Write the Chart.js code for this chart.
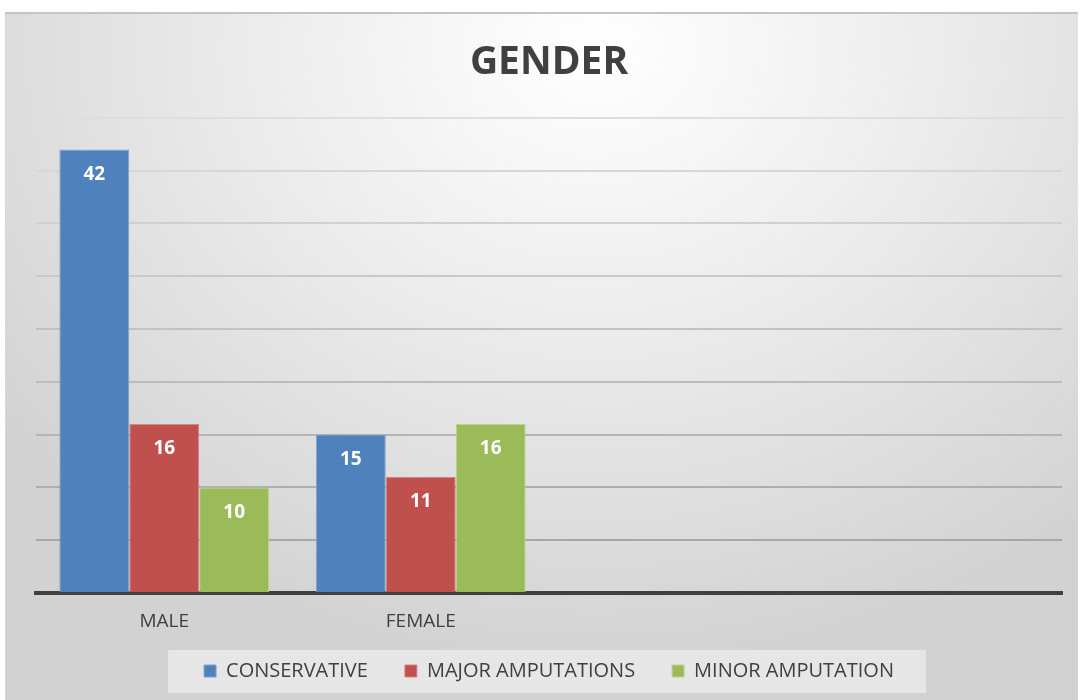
<!DOCTYPE html>
<html>
<head>
<meta charset="utf-8">
<script src="https://cdn.jsdelivr.net/npm/chart.js@4.4.1/dist/chart.umd.min.js"></script>
<style>
  html, body { margin: 0; padding: 0; background: #ffffff; }
  #wrap { position: relative; width: 1080px; height: 700px; }
  #frame {
    position: absolute; left: 5px; top: 12px; width: 1072px; height: 690px;
    border-top: 2px solid #c4c4c4; border-left: 1px solid #d8d8d8;
    background: radial-gradient(ellipse 70% 90% at 55% 5%, #ffffff 0%, #ececec 45%, #d2d2d2 100%);
  }
  canvas { position: absolute; left: 0; top: 0; }
</style>
</head>
<body>
<div id="wrap">
  <div id="frame"></div>
  <canvas id="myChart" width="1080" height="700"></canvas>
</div>
<script>
// categories (the two empty slots keep the plot wide like the original)
const categories = ["MALE", "FEMALE", "", ""];
const conservative = [42, 15, null, null];
const majorAmputations = [16, 11, null, null];
const minorAmputation = [10, 16, null, null];
const seriesNames = ["CONSERVATIVE", "MAJOR AMPUTATIONS", "MINOR AMPUTATION"];

const FONT = "'Open Sans', 'Liberation Sans', sans-serif";

// white value labels inside the top of each bar
const valueLabels = {
  id: "valueLabels",
  afterDatasetsDraw(chart) {
    const ctx = chart.ctx;
    ctx.save();
    ctx.fillStyle = "#ffffff";
    ctx.font = "bold 19px " + FONT;
    ctx.textAlign = "center";
    ctx.textBaseline = "middle";
    chart.data.datasets.forEach((ds, i) => {
      chart.getDatasetMeta(i).data.forEach((bar, j) => {
        if (ds.data[j] == null) return;
        ctx.fillText(ds.data[j], bar.x, bar.y + 25);
      });
    });
    ctx.restore();
  }
};

// category names under the axis (drawn here so they can hang below the short x box)
const categoryLabels = {
  id: "categoryLabels",
  afterDraw(chart) {
    const x = chart.scales.x;
    const ctx = chart.ctx;
    ctx.save();
    ctx.fillStyle = "#404040";
    ctx.font = "19px " + FONT;
    ctx.textAlign = "center";
    ctx.textBaseline = "middle";
    categories.forEach((c, i) => {
      ctx.fillText(c, x.getPixelForTick(i), chart.chartArea.bottom + 29);
    });
    ctx.restore();
  }
};

// light box behind the legend
const legendBox = {
  id: "legendBox",
  beforeDraw(chart) {
    const boxes = chart.legend.legendHitBoxes;
    if (!boxes || !boxes.length) return;
    const first = boxes[0], last = boxes[boxes.length - 1];
    const ctx = chart.ctx;
    const x0 = first.left - 36, x1 = last.left + last.width + 32;
    const cy = first.top + first.height / 2;
    ctx.save();
    ctx.fillStyle = "rgba(232,232,232,0.9)";
    ctx.fillRect(x0, cy - 21, x1 - x0, 43);
    ctx.restore();
  }
};

// gridlines fade from dark near the axis to light at the top
function gridColor(c) {
  const v = c.tick ? c.tick.value : 0;
  const g = Math.round(160 + (222 - 160) * (v / 45));
  return `rgb(${g},${g},${g})`;
}

const chart = new Chart(document.getElementById("myChart").getContext("2d"), {
  type: "bar",
  data: {
    labels: categories,
    datasets: [
      { label: seriesNames[0], data: conservative, backgroundColor: "#4f81bd", borderColor: "#7fa3d1", borderWidth: 1 },
      { label: seriesNames[1], data: majorAmputations, backgroundColor: "#c0504d", borderColor: "#d68583", borderWidth: 1 },
      { label: seriesNames[2], data: minorAmputation, backgroundColor: "#9bbb59", borderColor: "#bcd38e", borderWidth: 1 }
    ]
  },
  options: {
    responsive: false,
    animation: false,
    layout: { padding: { left: 36, right: 18, top: 12, bottom: 9 } },
    datasets: { bar: { categoryPercentage: 0.818, barPercentage: 1 } },
    scales: {
      x: {
        grid: { display: false, drawTicks: false },
        border: { color: "#404040", width: 4 },
        ticks: { display: false },
        afterFit(scale) { scale.height = 31; }
      },
      y: {
        min: 0, max: 45,
        ticks: { display: false, stepSize: 5 },
        border: { display: false },
        grid: { color: gridColor, lineWidth: 2, drawTicks: false }
      }
    },
    plugins: {
      title: {
        display: true,
        text: "GENDER",
        color: "#404040",
        font: { family: FONT, size: 39, weight: "bold" },
        padding: { top: 27, bottom: 32 }
      },
      legend: {
        position: "bottom",
        labels: {
          color: "#404040",
          font: { family: FONT, size: 20 },
          boxWidth: 12, boxHeight: 12,
          padding: 37
        }
      },
      tooltip: { enabled: false }
    }
  },
  plugins: [valueLabels, categoryLabels, legendBox]
});
</script>
</body>
</html>
